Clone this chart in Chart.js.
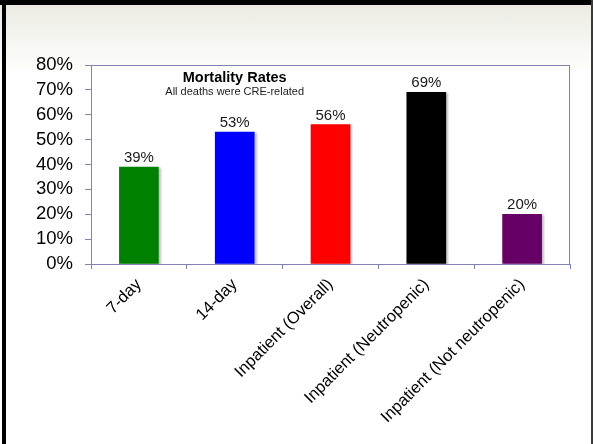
<!DOCTYPE html>
<html>
<head>
<meta charset="utf-8">
<script src="https://cdn.jsdelivr.net/npm/chart.js@4/dist/chart.umd.min.js"></script>
<style>
    html, body { margin: 0; padding: 0; }
    #slide {
        position: relative;
        width: 593px;
        height: 444px;
        overflow: hidden;
        background: linear-gradient(to bottom, #e9e9e1 0px, #f1f1eb 25px, #f8f8f5 50px, #ffffff 75px);
    }
    #chart { position: absolute; left: 0; top: 0; }
    .edge { position: absolute; }
    #edgeTop { left: 0; top: 0; width: 593px; height: 5px; background: #000; }
    #edgeLeft { left: 2px; top: 0; width: 4px; height: 444px; background: #000; }
    #edgeRight { left: 591px; top: 0; width: 2px; height: 444px; background: #3a3a3a; }
</style>
</head>
<body>
<div id="slide">
    <canvas id="chart" width="593" height="444"></canvas>
    <div class="edge" id="edgeTop"></div>
    <div class="edge" id="edgeLeft"></div>
    <div class="edge" id="edgeRight"></div>
</div>
<script>
// ============ Data ============

const categories = ['7-day', '14-day', 'Inpatient (Overall)', 'Inpatient (Neutropenic)', 'Inpatient (Not neutropenic)'];
const mortality = [39, 53, 56, 69, 20];
const barColors = ['#008000', '#0000ff', '#ff0000', '#000000', '#660066'];
const yTicks = [0, 10, 20, 30, 40, 50, 60, 70, 80];
const chartTitle = 'Mortality Rates';
const chartSubtitle = 'All deaths were CRE-related';

const AXIS_COLOR = '#8383b3';
const FONT = 'Arial, "Liberation Sans", sans-serif';

// ============ Plugins ============

// frame around the plot area
const framePlugin = {
    id: 'frame',
    beforeDatasetsDraw(chart) {
        const { ctx, chartArea: a } = chart;
        ctx.save();
        ctx.strokeStyle = AXIS_COLOR;
        ctx.lineWidth = 1;
        ctx.strokeRect(a.left + 0.5, a.top + 0.5, a.right - a.left - 1, a.bottom - a.top);
        ctx.restore();
    }
};

// soft shadow to the right of each bar
const shadowPlugin = {
    id: 'barShadow',
    beforeDatasetsDraw(chart) {
        const ctx = chart.ctx;
        ctx.save();
        ctx.shadowColor = 'rgba(0,0,0,0.25)';
        ctx.shadowOffsetX = 2;
        ctx.shadowOffsetY = 1;
        ctx.shadowBlur = 2;
    },
    afterDatasetsDraw(chart) {
        chart.ctx.restore();
    }
};

// value labels + title inside the plot
const labelPlugin = {
    id: 'labels',
    afterDatasetsDraw(chart) {
        const ctx = chart.ctx;
        const meta = chart.getDatasetMeta(0);
        ctx.save();
        ctx.fillStyle = '#1a1a1a';
        ctx.font = '15px ' + FONT;
        ctx.textAlign = 'center';
        ctx.textBaseline = 'alphabetic';
        meta.data.forEach((bar, i) => {
            ctx.fillText(mortality[i] + '%', bar.x, bar.y - 5);
        });

        const x = chart.scales.x.getPixelForValue(1);
        ctx.fillStyle = '#000';
        ctx.font = 'bold 14.5px ' + FONT;
        ctx.fillText(chartTitle, x, chart.chartArea.top + 17);
        ctx.fillStyle = '#222';
        ctx.font = '11px ' + FONT;
        ctx.fillText(chartSubtitle, x, chart.chartArea.top + 30);
        ctx.restore();
    }
};

// ============ Chart ============

new Chart(document.getElementById('chart').getContext('2d'), {
    type: 'bar',
    data: {
        labels: categories,
        datasets: [{
            data: mortality,
            backgroundColor: barColors,
            borderWidth: 0,
            barThickness: 39
        }]
    },
    options: {
        responsive: false,
        animation: false,
        layout: { padding: { top: 65, right: 23, left: 0, bottom: 0 } },
        plugins: {
            legend: { display: false },
            tooltip: { enabled: false }
        },
        scales: {
            x: {
                afterFit: (scale) => { scale.height = 180; },
                grid: {
                    offset: true,
                    drawOnChartArea: false,
                    drawTicks: true,
                    tickLength: 5,
                    color: AXIS_COLOR
                },
                border: { color: AXIS_COLOR },
                ticks: {
                    color: '#000',
                    font: { family: FONT, size: 16.5 },
                    minRotation: 45,
                    maxRotation: 45,
                    autoSkip: false,
                    padding: 6
                }
            },
            y: {
                min: 0,
                max: 80,
                afterFit: (scale) => { scale.width = 91; },
                afterBuildTicks: (scale) => { scale.ticks = yTicks.map(v => ({ value: v })); },
                grid: {
                    drawOnChartArea: false,
                    drawTicks: true,
                    tickLength: 6,
                    color: AXIS_COLOR
                },
                border: { color: AXIS_COLOR },
                ticks: {
                    color: '#000',
                    font: { family: FONT, size: 18.5 },
                    padding: 12,
                    autoSkip: false,
                    callback: (v) => v + '%'
                }
            }
        }
    },
    plugins: [framePlugin, shadowPlugin, labelPlugin]
});
</script>
</body>
</html>
